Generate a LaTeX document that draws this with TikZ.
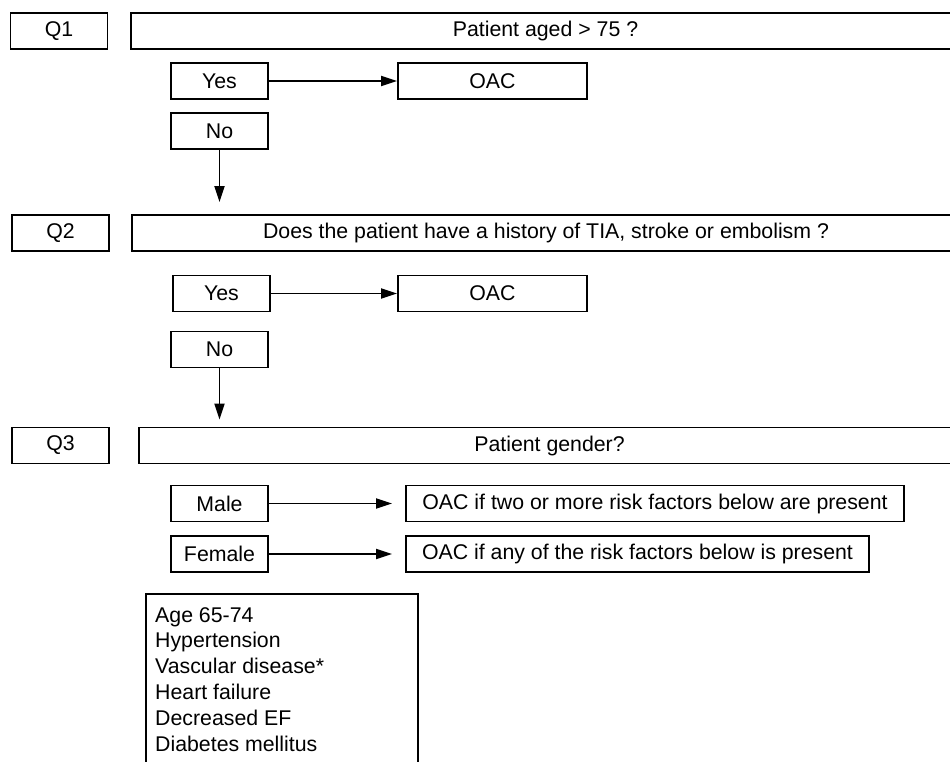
\documentclass[tikz,border=0pt]{standalone}
\usepackage{fontspec}
\setmainfont{Liberation Sans}
\usetikzlibrary{positioning,arrows.meta}

\tikzset{
    box/.style={draw, rectangle, line width=1.8pt, minimum height=36pt, inner sep=0pt},
    qbox/.style={box, minimum width=97pt},
    ans/.style={box, minimum width=97pt},
    link/.style={->, line width=1.8pt},
    >={Triangle[length=16pt,width=10pt]}
}

\begin{document}
\begin{tikzpicture}[x=1pt, y=-1pt, font=\fontsize{21.3}{25.8}\selectfont]
    \useasboundingbox (0,0) rectangle (950,761);
    % Q1
    \node (q1) [qbox] at (59,31) {Q1};
    \node (ask1) [box, minimum width=829pt] at (545.5,31) {Patient aged > 75 ?};
    \node (yes1) [ans] at (219.5,81) {Yes};
    \node (oac1) [box, minimum width=189pt, right of=yes1, node distance=273pt] {OAC};
    \node (no1) [ans, below of=yes1, node distance=50pt] {No};
    \draw[link] (yes1) -- (oac1);
    % Q2
    \node (q2) [qbox] at (60.5,233) {Q2};
    \node (ask2) [box, minimum width=828pt] at (546,233) {Does the patient have a history of TIA, stroke or embolism ?};
    \draw[link, shorten >=12pt] (no1) -- (no1 |- ask2.north);
    \node (yes2) [ans] at (221.5,293.5) {Yes};
    \node (oac2) [box, minimum width=189pt] at (492.5,293.5) {OAC};
    \node (no2) [ans] at (219.5,349.5) {No};
    \draw[link] (yes2) -- (oac2);
    % Q3
    \node (q3) [qbox] at (60.5,445.5) {Q3};
    \node (ask3) [box, minimum width=821pt] at (549.5,445.5) {Patient gender?};
    \draw[link, shorten >=7pt] (no2) -- (no2 |- ask3.north);
    \node (male) [ans] at (219.5,503.5) {Male};
    \node (oacm) [box, minimum width=498pt] at (655,503.5) {OAC if two or more risk factors below are present};
    \node (female) [ans] at (219.5,554) {Female};
    \node (oacf) [box, minimum width=463pt] at (637.5,554) {OAC if any of the risk factors below is present};
    \draw[link, shorten >=13pt] (male) -- (oacm);
    \draw[link, shorten >=13pt] (female) -- (oacf);
    % risk factors
    \node (risks) [anchor=north west, align=left, inner sep=0pt] at (155,607)
        {Age 65-74\\Hypertension\\Vascular disease*\\Heart failure\\Decreased EF\\Diabetes mellitus};
    \draw[line width=1.8pt] (146,775) |- (418,594) -- (418,775);
\end{tikzpicture}
\end{document}
